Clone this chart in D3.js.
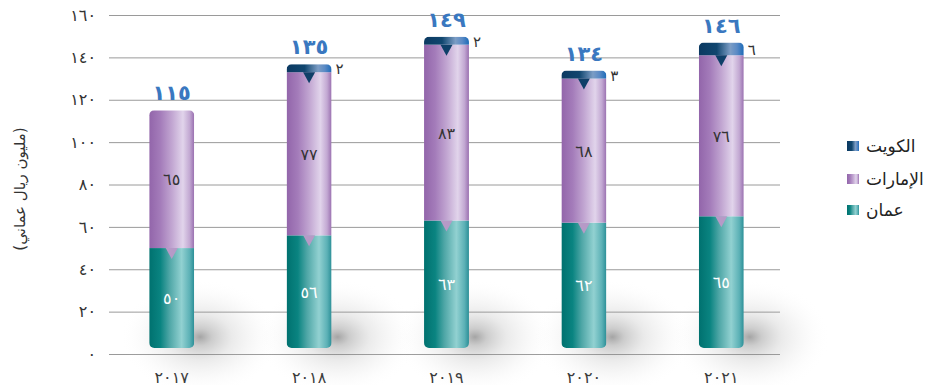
<!DOCTYPE html>
<html>
<head>
<meta charset="utf-8">
<script src="https://cdn.jsdelivr.net/npm/d3@7/dist/d3.min.js"></script>
<style>
  body { margin: 0; background: #fff; }
  svg { display: block; font-family: 'DejaVu Sans', sans-serif; }
</style>
</head>
<body>
<div class="holder"></div>
<script>
const years = [2017, 2018, 2019, 2020, 2021];
const oman = [50, 56, 63, 62, 65];
const uae = [65, 77, 83, 68, 76];
const kuwait = [0, 2, 2, 3, 6];
const totals = [115, 135, 149, 134, 146];
const yTicks = [0, 20, 40, 60, 80, 100, 120, 140, 160];
const seriesNames = ['عمان', 'الإمارات', 'الكويت'];

const width = 930;
const height = 385;
const gridLeft = 109;
const gridRight = 780;

// western digits -> arabic-indic
const ar = n => String(n).replace(/[0-9]/g, d => '٠١٢٣٤٥٦٧٨٩'[+d]);

const svg = d3.select('.holder')
  .append('svg')
  .attr('width', width)
  .attr('height', height);

const defs = svg.append('defs');

function addGrad(id, stops) {
  const g = defs.append('linearGradient')
    .attr('id', id)
    .attr('x1', 0).attr('x2', 1).attr('y1', 0).attr('y2', 0);
  stops.forEach(s => g.append('stop').attr('offset', s[0]).attr('stop-color', s[1]));
}
addGrad('g-oman', [[0, '#00716f'], [0.25, '#0a8481'], [0.45, '#4ea6a6'], [0.72, '#92d1d1'], [0.9, '#5cb1b6'], [1, '#2b8f97']]);
addGrad('g-uae', [[0, '#9265aa'], [0.25, '#a47cba'], [0.5, '#c1a5d1'], [0.75, '#e1d4eb'], [0.9, '#c2a8d2'], [1, '#9a70b0']]);
addGrad('g-kw', [[0, '#0b3961'], [0.4, '#10466f'], [0.7, '#7c9dc5'], [0.85, '#5a8ac5'], [1, '#1d6bb8']]);

const shadow = defs.append('radialGradient').attr('id', 'g-shadow');
shadow.append('stop').attr('offset', 0).attr('stop-color', '#5a5a5a').attr('stop-opacity', 0.55);
shadow.append('stop').attr('offset', 0.15).attr('stop-color', '#7a7a7a').attr('stop-opacity', 0.38);
shadow.append('stop').attr('offset', 0.4).attr('stop-color', '#999').attr('stop-opacity', 0.2);
shadow.append('stop').attr('offset', 0.7).attr('stop-color', '#bbb').attr('stop-opacity', 0.08);
shadow.append('stop').attr('offset', 1).attr('stop-color', '#fff').attr('stop-opacity', 0);

const yScale = d3.scaleLinear().domain([0, 160]).range([354, 15]);
const xScale = d3.scaleBand()
  .domain(years)
  .range([103, 790])
  .paddingInner(0.673)
  .paddingOuter(0.3365);
const bw = xScale.bandwidth();

// grid + y labels
const yAxis = d3.axisLeft(yScale)
  .tickValues(yTicks)
  .tickSize(-(gridRight - gridLeft))
  .tickPadding(13)
  .tickFormat(ar);

const yg = svg.append('g')
  .attr('transform', `translate(${gridLeft},0)`)
  .call(yAxis);
yg.select('.domain').remove();
yg.selectAll('line').attr('stroke', '#9a9a9a');
yg.selectAll('text').attr('font-size', 16).attr('fill', '#333')
  .attr('font-family', 'DejaVu Sans');

svg.append('text')
  .attr('transform', 'rotate(-90)')
  .attr('x', -189)
  .attr('y', 25)
  .attr('text-anchor', 'middle')
  .attr('font-size', 15)
  .attr('fill', '#333')
  .text('(مليون ريال عماني)');

// x labels
const xAxis = d3.axisBottom(xScale).tickSize(0).tickPadding(18).tickFormat(ar);
const xg = svg.append('g').attr('transform', 'translate(0,354)').call(xAxis);
xg.select('.domain').remove();
xg.selectAll('text').attr('font-size', 16).attr('fill', '#333')
  .attr('font-family', 'DejaVu Sans');

// soft floor shadows
svg.selectAll('.shadow')
  .data(years)
  .enter()
  .append('ellipse')
  .attr('class', 'shadow')
  .attr('cx', d => xScale(d) + bw + 6)
  .attr('cy', 337)
  .attr('rx', 80)
  .attr('ry', 58)
  .attr('fill', 'url(#g-shadow)');

const bottomY = yScale(0) - 6;

years.forEach((yr, i) => {
  const x0 = xScale(yr);
  const cx = x0 + bw / 2;
  const g = svg.append('g');

  const yOman = yScale(oman[i]);
  const yUae = yScale(oman[i] + uae[i]);
  let yKw = yUae;
  if (kuwait[i] > 0) {
    yKw = Math.min(yScale(oman[i] + uae[i] + kuwait[i]), yUae - 8);
  }

  const clipId = 'clip' + i;
  defs.append('clipPath').attr('id', clipId)
    .append('rect')
    .attr('x', x0).attr('y', yKw)
    .attr('width', bw).attr('height', bottomY - yKw)
    .attr('rx', 5);

  const inner = g.append('g').attr('clip-path', `url(#${clipId})`);

  inner.append('rect')
    .attr('x', x0).attr('y', yOman)
    .attr('width', bw).attr('height', bottomY - yOman)
    .attr('fill', 'url(#g-oman)');
  inner.append('rect')
    .attr('x', x0).attr('y', yUae)
    .attr('width', bw).attr('height', yOman - yUae)
    .attr('fill', 'url(#g-uae)');
  // notch uae -> oman
  inner.append('path')
    .attr('d', `M${cx - 6},${yOman}L${cx + 6},${yOman}L${cx},${yOman + 11}Z`)
    .attr('fill', '#b69ac7');

  if (kuwait[i] > 0) {
    inner.append('rect')
      .attr('x', x0).attr('y', yKw)
      .attr('width', bw).attr('height', yUae - yKw)
      .attr('fill', 'url(#g-kw)');
    inner.append('path')
      .attr('d', `M${cx - 6},${yUae}L${cx + 6},${yUae}L${cx},${yUae + 11}Z`)
      .attr('fill', '#0e3f68');

    g.append('text')
      .attr('x', x0 + bw + 4)
      .attr('y', (yKw + yUae) / 2 + 6)
      .attr('font-size', 15)
      .attr('fill', '#333')
      .text(ar(kuwait[i]));
  }

  g.append('text')
    .attr('x', cx)
    .attr('y', (yOman + bottomY) / 2 + 6)
    .attr('text-anchor', 'middle')
    .attr('font-size', 16)
    .attr('fill', '#fff')
    .text(ar(oman[i]));

  g.append('text')
    .attr('x', cx)
    .attr('y', (yUae + yOman) / 2 + 6)
    .attr('text-anchor', 'middle')
    .attr('font-size', 16)
    .attr('fill', '#333')
    .text(ar(uae[i]));

  g.append('text')
    .attr('x', cx)
    .attr('y', yKw - 10)
    .attr('text-anchor', 'middle')
    .attr('font-size', 21)
    .attr('font-weight', 'bold')
    .attr('fill', '#3a78c0')
    .text(ar(totals[i]));
});

// legend
const legendItems = [
  { name: seriesNames[2], fill: 'url(#g-kw)' },
  { name: seriesNames[1], fill: 'url(#g-uae)' },
  { name: seriesNames[0], fill: 'url(#g-oman)' }
];
const legendY = [146, 179, 210];
const legend = svg.selectAll('.legend')
  .data(legendItems)
  .enter()
  .append('g')
  .attr('class', 'legend')
  .attr('transform', (d, i) => `translate(847,${legendY[i]})`);
legend.append('rect')
  .attr('x', 0).attr('y', -5)
  .attr('width', 12).attr('height', 10)
  .attr('fill', d => d.fill);
legend.append('text')
  .attr('x', 19)
  .attr('y', 6)
  .attr('text-anchor', 'start')
  .attr('font-size', 17)
  .attr('fill', '#222')
  .text(d => d.name);
</script>
</body>
</html>
